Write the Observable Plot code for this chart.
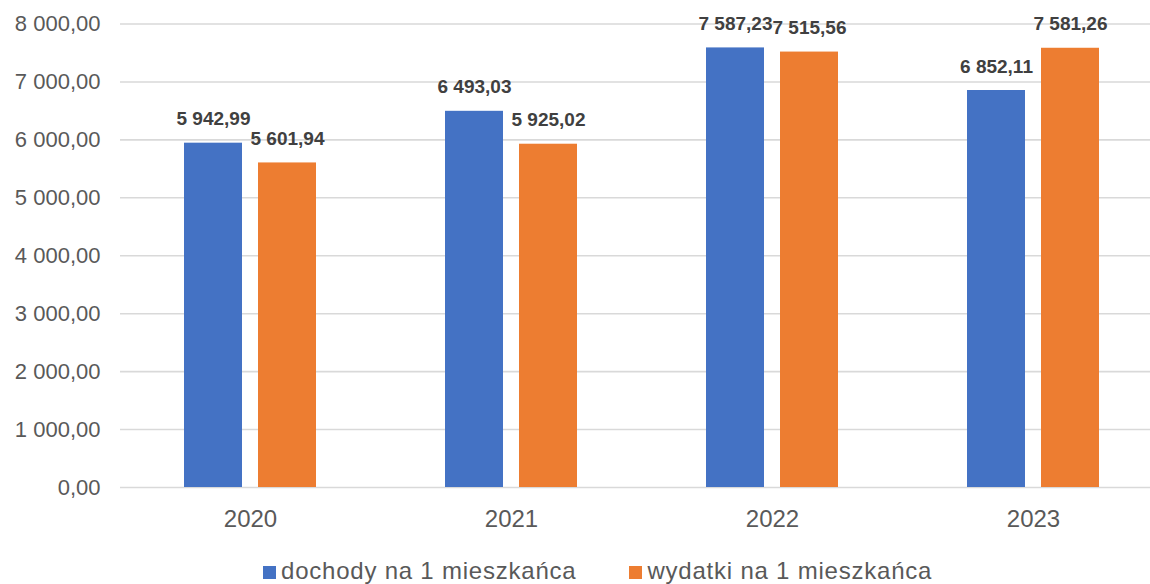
<!DOCTYPE html>
<html>
<head>
<meta charset="utf-8">
<script src="https://cdn.jsdelivr.net/npm/d3@7"></script>
<script src="https://cdn.jsdelivr.net/npm/@observablehq/plot@0.6"></script>
<style>
  html, body { margin: 0; padding: 0; background: #ffffff; }
  body { width: 1150px; height: 584px; overflow: hidden; font-family: "Liberation Sans", Arial, sans-serif; }
  #legend { padding-left: 263px; padding-top: 14px; font-size: 24px; line-height: 24px; color: #595959; letter-spacing: 0.78px; white-space: nowrap; }
  #legend .item { display: inline-block; }
  #legend .sw { display: inline-block; width: 13px; height: 13px; margin-right: 5px; }
</style>
</head>
<body>
<div id="chart"></div>
<div id="legend"></div>
<script>
const years = ["2020", "2021", "2022", "2023"];
const dochody = [5942.99, 6493.03, 7587.23, 6852.11];
const wydatki = [5601.94, 5925.02, 7515.56, 7581.26];
const seriesNames = ["dochody na 1 mieszkańca", "wydatki na 1 mieszkańca"];
const seriesColors = ["#4472C4", "#ED7D31"];
const yTicks = [0, 1000, 2000, 3000, 4000, 5000, 6000, 7000, 8000];

const locale = d3.formatLocale({decimal: ",", thousands: " ", grouping: [3], currency: ["", " zł"]});
const fmt = locale.format(",.2f");

const rowsD = years.map((y, i) => ({year: y, value: dochody[i]}));
const rowsW = years.map((y, i) => ({year: y, value: wydatki[i]}));

const font = "'Liberation Sans', Arial, sans-serif";

const chart = Plot.plot({
  width: 1150,
  height: 545,
  marginLeft: 120,
  marginRight: 0,
  marginTop: 23.5,
  marginBottom: 58,
  style: {fontFamily: font, color: "#595959", background: "#ffffff", overflow: "hidden"},
  x: {domain: years, range: [119, 1164], paddingInner: 0.778, paddingOuter: 0.389, align: 0.5},
  y: {domain: [0, 8000]},
  marks: [
    Plot.ruleY(yTicks, {stroke: "#d9d9d9", strokeWidth: 1.6}),
    Plot.barY(rowsD, {x: "year", y: "value", fill: seriesColors[0], dx: -37}),
    Plot.barY(rowsW, {x: "year", y: "value", fill: seriesColors[1], dx: 37}),
    Plot.text(rowsD, {x: "year", y: "value", text: d => fmt(d.value), dx: -37, dy: -24, fontSize: 19, fontWeight: "bold", fill: "#404040"}),
    Plot.text(rowsW, {x: "year", y: "value", text: d => fmt(d.value), dx: 37, dy: -24, fontSize: 19, fontWeight: "bold", fill: "#404040"}),
    Plot.axisY({ticks: yTicks, tickFormat: fmt, tickSize: 0, tickPadding: 20, fontSize: 22, label: null, fill: "#595959"}),
    Plot.axisX({tickSize: 0, tickPadding: 22, fontSize: 24, label: null, fill: "#595959"})
  ]
});
document.getElementById("chart").appendChild(chart);

const legend = document.getElementById("legend");
seriesNames.forEach((name, i) => {
  const item = document.createElement("span");
  item.className = "item";
  if (i > 0) item.style.marginLeft = "53px";
  const sw = document.createElement("span");
  sw.className = "sw";
  sw.style.background = seriesColors[i];
  item.appendChild(sw);
  item.appendChild(document.createTextNode(name));
  legend.appendChild(item);
});
</script>
</body>
</html>
